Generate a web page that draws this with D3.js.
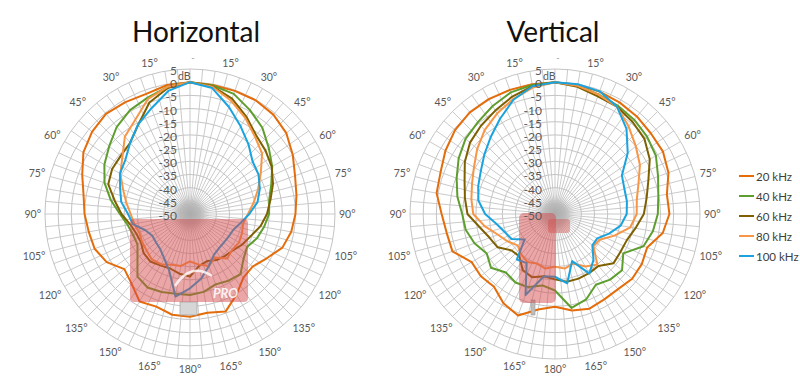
<!DOCTYPE html>
<html><head><meta charset="utf-8">
<script src="https://cdn.jsdelivr.net/npm/d3@7/dist/d3.min.js"></script>
<style>
body{margin:0;background:#fff;}
svg{display:block;font-family:Lato,"Open Sans",sans-serif;}
</style>
</head><body>
<svg id="chart" width="800" height="392"></svg>
<script>
// ---------- data ----------
const angles = [0,10,20,30,40,50,60,70,80,90,100,110,120,130,140,150,160,170,
                180,190,200,210,220,230,240,250,260,270,280,290,300,310,320,330,340,350];
const dbTicks = [5,0,-5,-10,-15,-20,-25,-30,-35,-40,-45,-50];
const angleTickValues = [15,30,45,60,75,90,105,120,135,150,165,180,195,210,225,240,255,270,285,300,315,330,345];
const angleTickLabels = ["15°","30°","45°","60°","75°","90°","105°","120°","135°","150°","165°","180°",
                         "165°","150°","135°","120°","105°","90°","75°","60°","45°","30°","15°"];
const seriesNames = ["20 kHz","40 kHz","60 kHz","80 kHz","100 kHz"];
const seriesColors = ["#E46C0A","#5E9E2E","#7F6000","#F79646","#1AA3DE"];
const panelTitles = ["Horizontal","Vertical"];

// Horizontal panel
const h20  = [0,-0.3,-0.3,-0.2,-0.8,-2.3,-5,-7.6,-9,-10,-11,-12.7,-16.4,-19,-18.5,-14.7,-10.6,-12,-11,-11.2,-12.6,-11.7,-15.5,-17.5,-13.5,-11.5,-11,-10,-9,-6.5,-3.3,-1.5,-0.4,-1,-1.5,-0.3];
const h40  = [0,-0.5,-1.5,-4.5,-7.3,-11,-14,-17.2,-19.5,-20,-21.5,-23,-25,-23.5,-20.2,-20.8,-21.6,-20,-19.3,-19.3,-18.5,-17.8,-19,-24,-27,-27,-26,-23.4,-19.5,-15.5,-12.5,-10,-6.8,-4.5,-3,-1];
const h60  = [0,-0.8,-3.4,-7.3,-11,-12.6,-14.2,-16.5,-19,-20.8,-22.9,-25.5,-27,-28.6,-29.3,-29.8,-31,-30,-26.3,-27,-28,-27.5,-26.5,-27,-28.5,-28.3,-27,-24,-21,-17,-15.9,-15.7,-14.7,-10.8,-5,-1.5];
const h80  = [0,-1,-4.3,-8,-11.7,-14.3,-19,-22.5,-25.5,-28,-29.5,-29,-28.5,-29,-28,-31,-29,-30.5,-32,-30,-29.5,-28,-27.5,-28.5,-29,-29.5,-28.5,-27.5,-25.5,-23,-19.5,-16.5,-11.6,-8.6,-3.5,-1];
const h100 = [0,-1.5,-6.8,-11.6,-15.5,-19,-20,-21.8,-24,-27.5,-30.5,-32.5,-33,-33.2,-33,-32,-29,-25.2,-21.8,-18.2,-27,-30.5,-32.5,-33.2,-33.5,-32,-28,-26.5,-23.5,-21.8,-19.3,-18,-14.7,-10.7,-7.3,-2.6];

// Vertical panel
const v20  = [0,-0.3,-0.6,-1.1,-1.7,-2.5,-2.7,-4.2,-6.9,-6.6,-8.5,-12.8,-12,-11.8,-12.8,-12.6,-11.8,-12.8,-14.8,-13.2,-9,-10.9,-14,-13.3,-13.5,-8.6,-8.3,-7,-4.4,-3.8,-2,-0.5,0.3,0.3,0.1,0];
const v40  = [0,-0.6,-1.7,-2.5,-3.3,-4.4,-5.8,-8.4,-10.2,-11,-12.3,-14.3,-20.1,-16.8,-17.5,-19,-15.5,-13.8,-21,-22.5,-20.5,-20,-21,-18.3,-20.1,-17.5,-15.6,-14.8,-12.4,-10.3,-7.8,-5.7,-4.5,-2.7,-0.9,-0.3];
const v60  = [0,-1,-2.5,-3,-4.3,-5.7,-8.5,-12.3,-14.7,-16.3,-19,-21,-21.3,-21,-24.3,-24.1,-23.9,-23.9,-25.2,-26,-24.5,-25.5,-29,-28.5,-24.8,-23.6,-21,-16.8,-15.3,-13.5,-10.5,-7.9,-6.3,-4.7,-2.6,-0.8];
const v80  = [0,-0.6,-1.8,-3,-6.6,-10,-12.8,-16.3,-18.5,-19,-21,-26,-30.5,-31,-25,-27,-30,-29,-30,-29,-30,-29,-30,-31.5,-29.2,-27,-23,-19,-17.8,-16.5,-14.5,-11.5,-8.5,-6,-3.6,-1.3];
const v100 = [0,0,-0.5,-3,-7.8,-14,-20.7,-22,-22.3,-22.8,-24.7,-28.2,-31.5,-31.5,-27.3,-23.9,-31,-23.3,-26.2,-26,-17.3,-28.5,-27.5,-35,-31,-29.8,-27.6,-23.5,-20.5,-19,-17.5,-15,-12,-8.3,-3.9,-0.8];

const panels = [
  {title: panelTitles[0], cx:190, cy:214, titleX:196, series:[h20,h40,h60,h80,h100]},
  {title: panelTitles[1], cx:555, cy:214, titleX:553, series:[v20,v40,v60,v80,v100]}
];

// ---------- drawing ----------
const svg = d3.select("#chart");
const R = 145;
const r = d3.scaleLinear().domain([-50, 5]).range([0, R]);
const rad = d => d * Math.PI / 180;

const defs = svg.append("defs");
const grad = defs.append("radialGradient").attr("id","hub");
grad.append("stop").attr("offset","0%").attr("stop-color","#a9a9a9").attr("stop-opacity",0.9);
grad.append("stop").attr("offset","55%").attr("stop-color","#b3b3b3").attr("stop-opacity",0.7);
grad.append("stop").attr("offset","100%").attr("stop-color","#cfcfcf").attr("stop-opacity",0);

panels.forEach((p, pi) => {
  const g = svg.append("g").attr("transform", `translate(${p.cx},${p.cy})`);

  // title
  svg.append("text").attr("x", p.titleX).attr("y", 42)
    .attr("text-anchor","middle").attr("font-size", 28).attr("fill","#111")
    .text(p.title);

  // spokes every 5 degrees
  const spokes = d3.range(0, 360, 5);
  g.selectAll("line.spoke").data(spokes).join("line")
    .attr("x1",0).attr("y1",0)
    .attr("x2", d => R*Math.sin(rad(d))).attr("y2", d => -R*Math.cos(rad(d)))
    .attr("stroke","#c4c4c4").attr("stroke-width",0.9);

  // dense hub where spokes converge
  g.append("circle").attr("r", 20).attr("fill","url(#hub)");

  // rings
  g.selectAll("circle.ring").data(dbTicks.filter(d => d > -50)).join("circle")
    .attr("r", d => r(d)).attr("fill","none")
    .attr("stroke","#c4c4c4").attr("stroke-width",1);

  // series lines
  const line = d3.lineRadial()
    .angle((d,i) => rad(angles[i]))
    .radius(d => r(d))
    .curve(d3.curveLinearClosed);
  p.series.forEach((s, si) => {
    g.append("path").attr("d", line(s)).attr("fill","none")
      .attr("stroke", seriesColors[si]).attr("stroke-width", 2)
      .attr("stroke-linejoin","round");
  });

  // product picture overlay (sensor), drawn above lines
  if (pi === 0) {
    g.append("rect").attr("x", 180-p.cx).attr("y", 302-p.cy).attr("width",17).attr("height",13)
      .attr("fill","#d6d6d6").attr("stroke","#a8a8a8").attr("stroke-width",0.8);
    g.append("rect").attr("x", 130-p.cx).attr("y", 219-p.cy).attr("width",118).attr("height",83)
      .attr("rx",4).attr("fill","#d64848").attr("opacity",0.48);
    g.append("text").attr("x", 213-p.cx).attr("y", 298-p.cy)
      .attr("font-size",13).attr("font-weight","bold").attr("font-style","italic")
      .attr("fill","#fff").attr("opacity",0.85).text("PRO");
    g.append("path")
      .attr("d", `M${175-p.cx},${286-p.cy} Q${190-p.cx},${262-p.cy} ${212-p.cx},${276-p.cy}`)
      .attr("fill","none").attr("stroke","#fff").attr("stroke-width",2.5).attr("opacity",0.8);
  } else {
    g.append("rect").attr("x", 531-p.cx).attr("y", 300-p.cy).attr("width",4).attr("height",15)
      .attr("fill","#bdbdbd").attr("stroke","#999").attr("stroke-width",0.6);
    g.append("rect").attr("x", 519-p.cx).attr("y", 213-p.cy).attr("width",37).attr("height",90)
      .attr("rx",5).attr("fill","#d64848").attr("opacity",0.48);
    g.append("rect").attr("x", 548-p.cx).attr("y", 219-p.cy).attr("width",22).attr("height",14)
      .attr("rx",3).attr("fill","#d64848").attr("opacity",0.40);
  }

  // dB labels
  g.selectAll("text.db").data(dbTicks).join("text")
    .attr("x", -13).attr("y", d => -r(d) + 1.5)
    .attr("text-anchor","end").attr("dominant-baseline","central")
    .attr("font-size",12).attr("fill","#595959")
    .text(d => d);
  g.append("text").attr("x",-12).attr("y", -r(5) + 6.5)
    .attr("dominant-baseline","central").attr("font-size",10.5).attr("fill","#595959")
    .text("dB");

  // top category mark
  g.append("text").attr("x", 3).attr("y", -R - 12)
    .attr("text-anchor","middle").attr("dominant-baseline","central")
    .attr("font-size",9).attr("fill","#999").text("-");

  // angle labels
  angleTickValues.forEach((a, i) => {
    const t = g.append("text").attr("text-anchor","middle").attr("dominant-baseline","central")
      .attr("font-size",10.5).attr("fill","#595959").text(angleTickLabels[i]);
    const w = t.node().getComputedTextLength();
    const s = Math.sin(rad(a)), c = Math.cos(rad(a));
    const d = R + 4 + Math.abs(s)*w/2 + Math.abs(c)*5.5;
    t.attr("x", d*s).attr("y", -d*c);
  });
});

// legend
const lg = svg.append("g");
seriesNames.forEach((n, i) => {
  const y = 176 + i*20;
  lg.append("line").attr("x1",739).attr("x2",754).attr("y1",y).attr("y2",y)
    .attr("stroke", seriesColors[i]).attr("stroke-width",2);
  lg.append("text").attr("x",756).attr("y",y).attr("dominant-baseline","central")
    .attr("font-size",11.5).attr("fill","#404040").text(n);
});
</script>
</body></html>
